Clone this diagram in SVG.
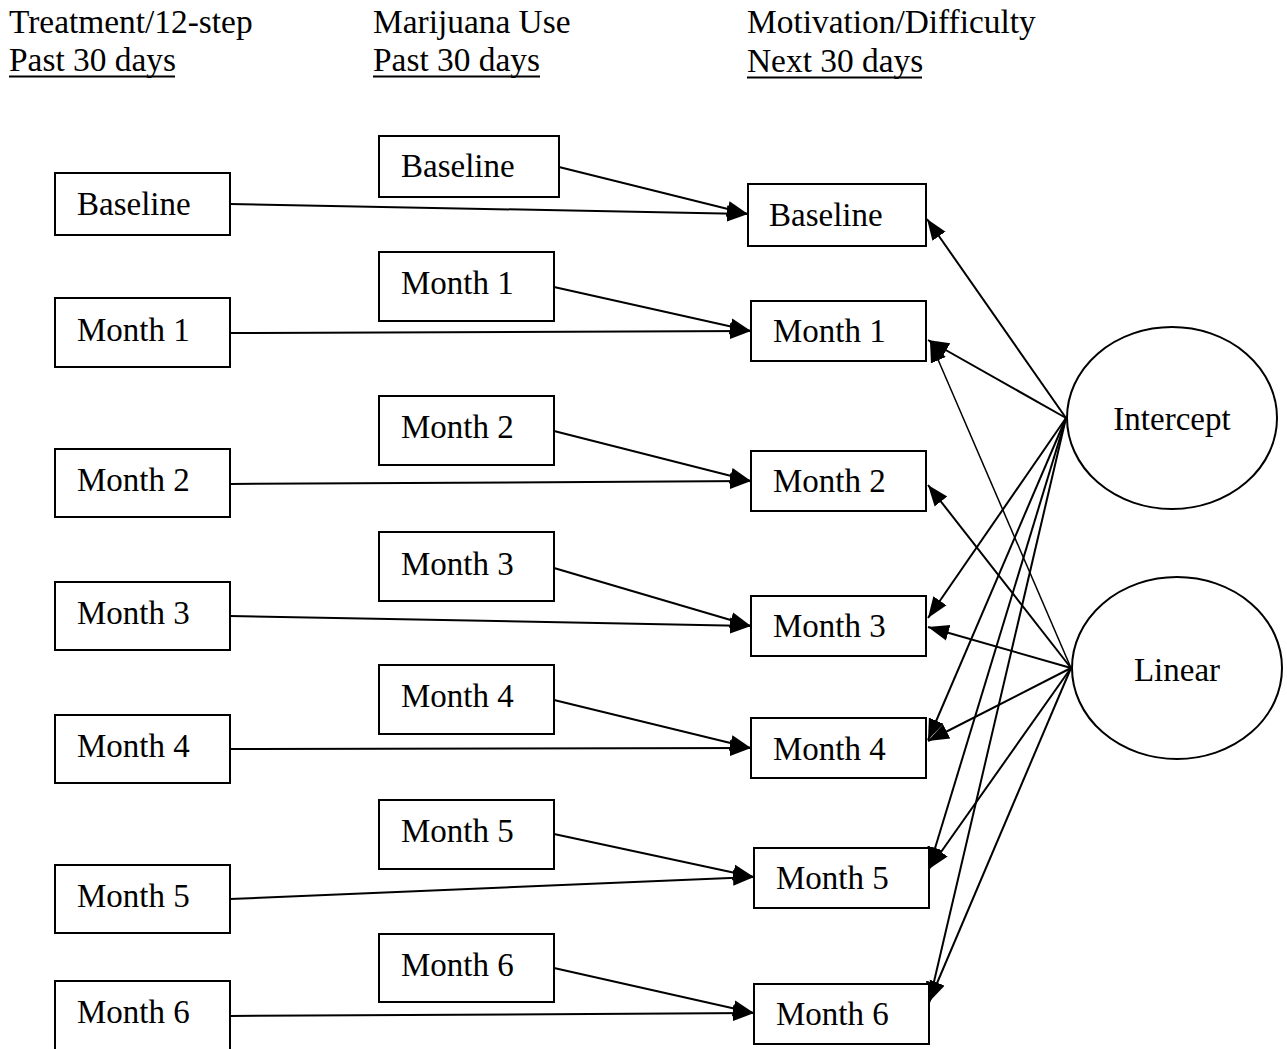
<svg xmlns="http://www.w3.org/2000/svg" width="1287" height="1049" viewBox="0 0 1287 1049">
<style>
text{font-family:"Liberation Serif","Times New Roman",serif;font-size:33px;fill:#000}
.hd{font-size:33.4px}
rect.b{fill:#fff;stroke:#000;stroke-width:2}
ellipse{fill:#fff;stroke:#000;stroke-width:2}
.c line{stroke:#000;stroke-width:2;marker-end:url(#ah)}
.c line.t{stroke-width:1.5}
.u{stroke:#000;stroke-width:2}
</style>
<defs>
<marker id="ah" markerUnits="userSpaceOnUse" markerWidth="22" markerHeight="18" refX="21" refY="9" orient="auto">
<path d="M0,1 L21,9 L0,17 z" fill="#000"/>
</marker>
</defs>
<rect width="1287" height="1049" fill="#fff"/>
<g id="headers">
<text class="hd" x="9" y="33">Treatment/12-step</text>
<text class="hd" x="9" y="71">Past 30 days</text>
<line class="u" x1="9" y1="76.5" x2="175" y2="76.5"/>
<text class="hd" x="373" y="33">Marijuana Use</text>
<text class="hd" x="373" y="71">Past 30 days</text>
<line class="u" x1="373" y1="76.5" x2="540" y2="76.5"/>
<text class="hd" x="747" y="33">Motivation/Difficulty</text>
<text class="hd" x="747" y="72">Next 30 days</text>
<line class="u" x1="747" y1="77.5" x2="922" y2="77.5"/>
</g>
<g id="connectors" class="c">
<line x1="230" y1="204" x2="748" y2="214"/>
<line x1="559" y1="167" x2="748" y2="214"/>
<line x1="230" y1="333" x2="751" y2="331"/>
<line x1="554" y1="287" x2="751" y2="331"/>
<line x1="230" y1="484" x2="751" y2="481"/>
<line x1="554" y1="431" x2="751" y2="481"/>
<line x1="230" y1="616" x2="751" y2="626"/>
<line x1="554" y1="568" x2="751" y2="626"/>
<line x1="230" y1="749" x2="751" y2="748"/>
<line x1="554" y1="700" x2="751" y2="748"/>
<line x1="230" y1="899" x2="754" y2="877"/>
<line x1="554" y1="834" x2="754" y2="877"/>
<line x1="230" y1="1016" x2="754" y2="1013"/>
<line x1="554" y1="968" x2="754" y2="1013"/>
<line x1="1066" y1="418" x2="927" y2="219"/>
<line x1="1066" y1="418" x2="928" y2="340"/>
<line x1="1066" y1="418" x2="928" y2="618"/>
<line x1="1066" y1="418" x2="928" y2="740"/>
<line x1="1066" y1="418" x2="929" y2="868"/>
<line x1="1066" y1="418" x2="929" y2="1003"/>
<line class="t" x1="1071" y1="668" x2="930" y2="341"/>
<line x1="1071" y1="668" x2="928" y2="485"/>
<line x1="1071" y1="668" x2="928" y2="627"/>
<line x1="1071" y1="668" x2="928" y2="741"/>
<line x1="1071" y1="668" x2="929" y2="869"/>
<line x1="1071" y1="668" x2="929" y2="1002"/>
</g>
<g id="tx-baseline"><rect class="b" x="55" y="173" width="175" height="62"/><text x="77" y="215">Baseline</text></g>
<g id="tx-month1"><rect class="b" x="55" y="298" width="175" height="69"/><text x="77" y="341">Month 1</text></g>
<g id="tx-month2"><rect class="b" x="55" y="449" width="175" height="68"/><text x="77" y="491">Month 2</text></g>
<g id="tx-month3"><rect class="b" x="55" y="582" width="175" height="68"/><text x="77" y="624">Month 3</text></g>
<g id="tx-month4"><rect class="b" x="55" y="715" width="175" height="68"/><text x="77" y="757">Month 4</text></g>
<g id="tx-month5"><rect class="b" x="55" y="865" width="175" height="68"/><text x="77" y="907">Month 5</text></g>
<g id="tx-month6"><rect class="b" x="55" y="981" width="175" height="75"/><text x="77" y="1023">Month 6</text></g>
<g id="mj-baseline"><rect class="b" x="379" y="136" width="180" height="61"/><text x="401" y="177">Baseline</text></g>
<g id="mj-month1"><rect class="b" x="379" y="252" width="175" height="69"/><text x="401" y="294">Month 1</text></g>
<g id="mj-month2"><rect class="b" x="379" y="396" width="175" height="69"/><text x="401" y="438">Month 2</text></g>
<g id="mj-month3"><rect class="b" x="379" y="532" width="175" height="69"/><text x="401" y="575">Month 3</text></g>
<g id="mj-month4"><rect class="b" x="379" y="665" width="175" height="69"/><text x="401" y="707">Month 4</text></g>
<g id="mj-month5"><rect class="b" x="379" y="800" width="175" height="69"/><text x="401" y="842">Month 5</text></g>
<g id="mj-month6"><rect class="b" x="379" y="934" width="175" height="68"/><text x="401" y="976">Month 6</text></g>
<g id="mo-baseline"><rect class="b" x="748" y="184" width="178" height="62"/><text x="769" y="226">Baseline</text></g>
<g id="mo-month1"><rect class="b" x="751" y="301" width="175" height="60"/><text x="773" y="342">Month 1</text></g>
<g id="mo-month2"><rect class="b" x="751" y="451" width="175" height="60"/><text x="773" y="492">Month 2</text></g>
<g id="mo-month3"><rect class="b" x="751" y="596" width="175" height="60"/><text x="773" y="637">Month 3</text></g>
<g id="mo-month4"><rect class="b" x="751" y="718" width="175" height="60"/><text x="773" y="760">Month 4</text></g>
<g id="mo-month5"><rect class="b" x="754" y="848" width="175" height="60"/><text x="776" y="889">Month 5</text></g>
<g id="mo-month6"><rect class="b" x="754" y="984" width="175" height="60"/><text x="776" y="1025">Month 6</text></g>
<g id="intercept"><ellipse cx="1172" cy="418" rx="105" ry="91"/><text x="1172" y="430" text-anchor="middle">Intercept</text></g>
<g id="linear"><ellipse cx="1177" cy="668" rx="105" ry="91"/><text x="1177" y="681" text-anchor="middle">Linear</text></g>
</svg>
